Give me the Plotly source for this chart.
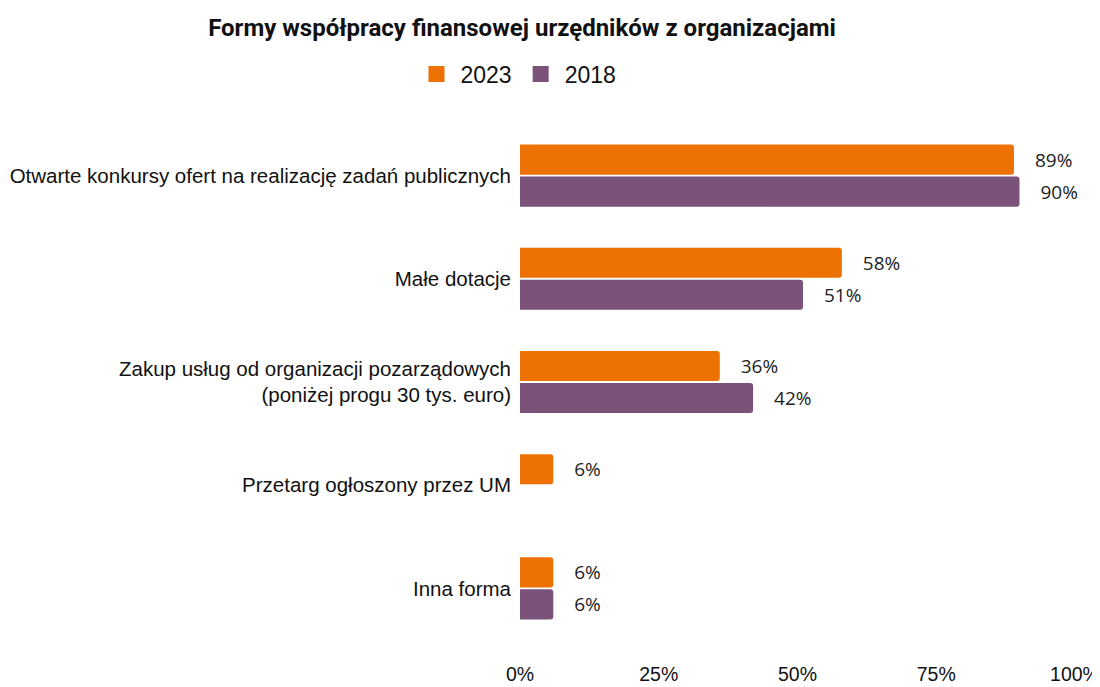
import plotly.graph_objects as go

# Data
categories = [
    "Otwarte konkursy ofert na realizację zadań publicznych",
    "Małe dotacje",
    "Zakup usług od organizacji pozarządowych<br>(poniżej progu 30 tys. euro)",
    "Przetarg ogłoszony przez UM",
    "Inna forma",
]
series_names = ["2023", "2018"]
values_2023 = [89, 58, 36, 6, 6]
values_2018 = [90, 51, 42, None, 6]
tick_vals = [0, 25, 50, 75, 100]
tick_text = ["0%", "25%", "50%", "75%", "100%"]

orange = "#EE7203"
purple = "#7B527A"
pad = "\u00a0" * 3 + "\u2009"

# the page body has an 8px margin, so the figure is 8px smaller than the window
W, H = 1092, 679

fig = go.Figure()
for name, vals, color in zip(series_names, [values_2023, values_2018], [orange, purple]):
    fig.add_trace(go.Bar(
        y=categories,
        x=vals,
        name=name,
        orientation="h",
        marker=dict(color=color, line=dict(width=0)),
        text=[f"{pad}{v}%" if v is not None else "" for v in vals],
        textposition="outside",
        textfont=dict(family="Open Sans", size=19, color="#222222"),
        cliponaxis=False,
        showlegend=False,
    ))

# legend entries with bigger square swatches
for name, color in zip(series_names, [orange, purple]):
    fig.add_trace(go.Scatter(
        x=[None], y=[None], mode="markers", name=name,
        marker=dict(symbol="square", size=17, color=color),
    ))

fig.update_layout(
    width=W,
    height=H,
    paper_bgcolor="white",
    plot_bgcolor="white",
    barmode="group",
    bargap=0.38,
    bargroupgap=0.06,
    barcornerradius=3,
    margin=dict(l=512, r=25, t=116, b=47),
    title=dict(
        text="<b>Formy współpracy finansowej urzędników z organizacjami</b>",
        x=514 / W, xanchor="center", y=1 - 20 / H, yanchor="middle",
        font=dict(family="Roboto", size=24, color="#111111"),
    ),
    legend=dict(
        orientation="h", xref="container", yref="container",
        x=509 / W, xanchor="center", y=1 - 66 / H, yanchor="middle",
        font=dict(family="Liberation Sans", size=23, color="#111111"),
        itemwidth=38, traceorder="normal",
    ),
    xaxis=dict(
        range=[0, 100],
        tickvals=tick_vals,
        ticktext=tick_text,
        showgrid=False,
        zeroline=False,
        showline=False,
        ticks="",
        automargin=False,
        ticklabelstandoff=20,
        ticklabeloverflow="allow",
        tickfont=dict(family="Liberation Sans", size=19.5, color="#111111"),
    ),
    yaxis=dict(
        autorange="reversed",
        showgrid=False,
        showline=False,
        ticks="",
        automargin=False,
        ticklabelstandoff=8,
        tickfont=dict(family="Liberation Sans", size=20.5, color="#111111"),
    ),
)

fig.write_html("out.html")
